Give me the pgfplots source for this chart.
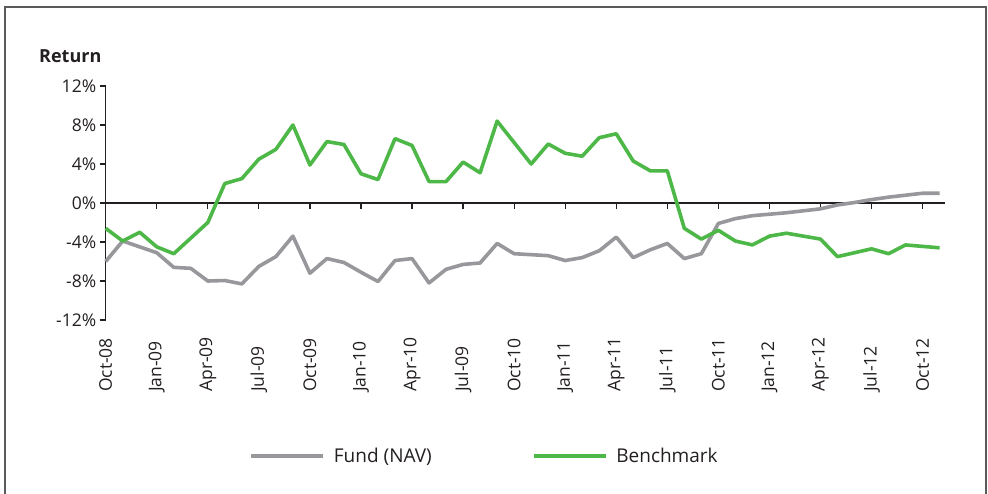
\documentclass[border=0pt]{standalone}
\usepackage{pgfplots}
\pgfplotsset{compat=1.18}
\usepackage{fontspec}
\setmainfont{Open Sans}
\definecolor{fundgray}{HTML}{98989C}
\definecolor{benchgreen}{HTML}{4DB848}
\definecolor{txt}{HTML}{231F20}
\definecolor{framegray}{HTML}{5A5A5A}

\begin{document}
\begin{tikzpicture}
\path[use as bounding box] (0,0) rectangle (988pt,-494pt);
\draw[framegray, line width=2pt] (5pt,-494pt) -- (5pt,-7pt) -- (986pt,-7pt) -- (986pt,-494pt);
\node[anchor=base west, inner sep=0pt, text=txt, font=\fontsize{18}{22}\selectfont\bfseries] at (39pt,-63pt) {Return};
\begin{axis}[
    at={(105.7pt,-320pt)}, anchor=south west,
    scale only axis, width=839pt, height=234pt,
    xmin=0, xmax=49.3, ymin=-12, ymax=12,
    axis x line*=middle, axis y line*=left,
    hide obscured x ticks=false, hide obscured y ticks=false,
    axis line style={txt, line width=1.2pt},
    tick style={txt, line width=1.2pt},
    major tick length=6pt,
    xtick align=outside, ytick align=outside,
    xtick={0,3,...,48},
    xticklabels={Oct-08,Jan-09,Apr-09,Jul-09,Oct-09,Jan-10,Apr-10,Jul-09,Oct-10,Jan-11,Apr-11,Jul-11,Oct-11,Jan-12,Apr-12,Jul-12,Oct-12},
    xticklabel style={rotate=90, anchor=west, inner sep=0pt, text=txt, font=\fontsize{17.5}{21}\selectfont},
    xticklabel shift=183pt,
    ytick={-12,-8,...,12},
    yticklabels={-12\%,-8\%,-4\%,0\%,4\%,8\%,12\%},
    yticklabel style={text=txt, font=\fontsize{17.5}{21}\selectfont},
    clip=false,
    legend columns=2,
    legend style={at={(0.4515,-0.581)}, anchor=center, draw=none, fill=none,
        text=txt, font=\fontsize{19}{23}\selectfont,
        /tikz/every even column/.append style={column sep=98pt}},
    legend image code/.code={\draw[#1, line cap=butt] (0pt,0pt) -- (72pt,0pt); \path (79pt,0pt);},
]
\addplot[fundgray, line width=3.6pt, line join=round] coordinates {
(0,-6.0)(1,-3.9)(2,-4.5)(3,-5.1)(4,-6.6)(5,-6.7)(6,-8.0)(7,-7.95)(8,-8.3)(9,-6.5)
(10,-5.5)(11,-3.4)(12,-7.2)(13,-5.7)(14,-6.1)(15,-7.1)(16,-8.05)(17,-5.9)(18,-5.7)(19,-8.2)
(20,-6.8)(21,-6.3)(22,-6.15)(23,-4.15)(24,-5.2)(25,-5.3)(26,-5.4)(27,-5.9)(28,-5.6)(29,-4.9)
(30,-3.5)(31,-5.6)(32,-4.8)(33,-4.15)(34,-5.7)(35,-5.2)(36,-2.1)(37,-1.6)(38,-1.3)(39,-1.15)
(40,-1.0)(41,-0.8)(42,-0.6)(43,-0.2)(44,0.05)(45,0.35)(46,0.6)(47,0.8)(48,1.0)(49,1.0)
};
\addlegendentry{Fund (NAV)}
\addplot[benchgreen, line width=3.6pt, line join=round] coordinates {
(0,-2.6)(1,-3.9)(2,-3.0)(3,-4.5)(4,-5.2)(5,-3.6)(6,-2.0)(7,2.0)(8,2.5)(9,4.5)
(10,5.5)(11,8.0)(12,3.9)(13,6.3)(14,6.0)(15,3.0)(16,2.4)(17,6.6)(18,5.9)(19,2.2)
(20,2.2)(21,4.2)(22,3.1)(23,8.4)(24,6.2)(25,4.0)(26,6.05)(27,5.1)(28,4.8)(29,6.7)
(30,7.1)(31,4.3)(32,3.3)(33,3.3)(34,-2.6)(35,-3.7)(36,-2.8)(37,-3.9)(38,-4.3)(39,-3.4)
(40,-3.1)(41,-3.4)(42,-3.7)(43,-5.5)(44,-5.1)(45,-4.7)(46,-5.2)(47,-4.3)(48,-4.45)(49,-4.6)
};
\addlegendentry{Benchmark}
\end{axis}
\end{tikzpicture}
\end{document}
